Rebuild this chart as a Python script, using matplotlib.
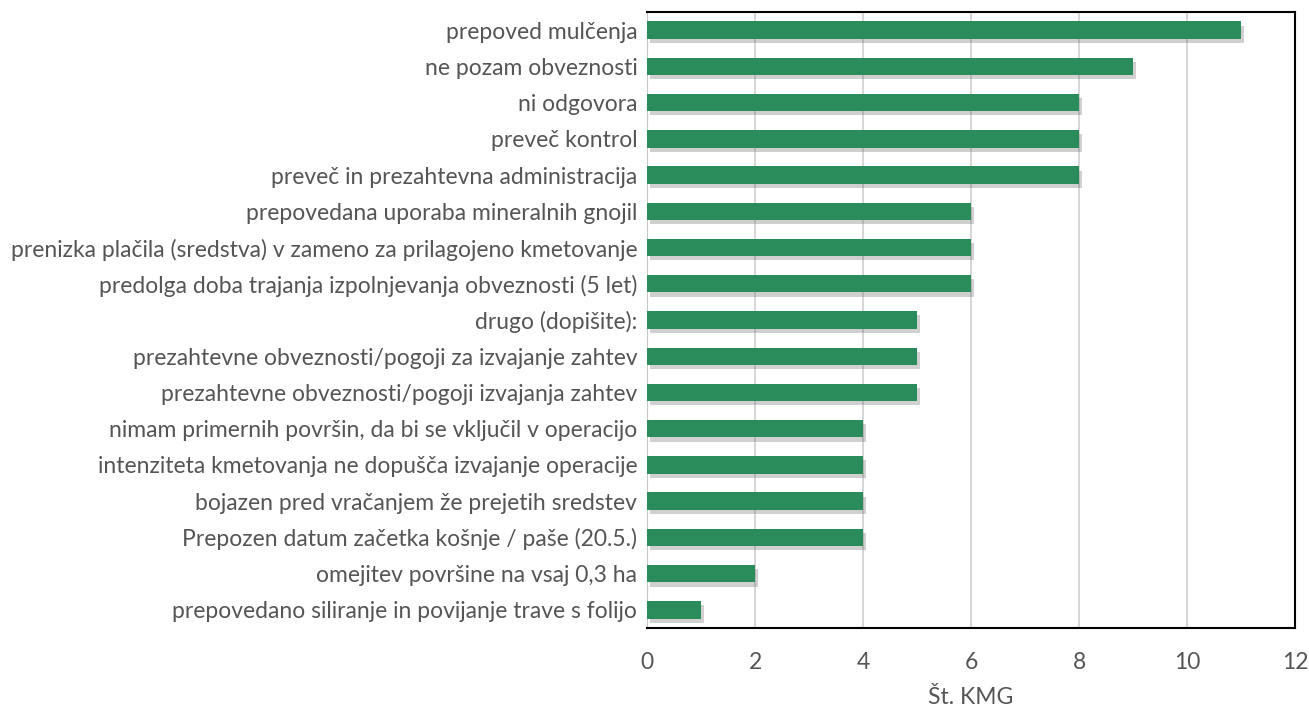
import numpy as np
import matplotlib.pyplot as plt
import matplotlib.patheffects as pe

plt.rcParams['font.family'] = ['Lato', 'DejaVu Sans']

labels = [
    'prepoved mulčenja',
    'ne pozam obveznosti',
    'ni odgovora',
    'preveč kontrol',
    'preveč in prezahtevna administracija',
    'prepovedana uporaba mineralnih gnojil',
    'prenizka plačila (sredstva) v zameno za prilagojeno kmetovanje',
    'predolga doba trajanja izpolnjevanja obveznosti (5 let)',
    'drugo (dopišite):',
    'prezahtevne obveznosti/pogoji za izvajanje zahtev',
    'prezahtevne obveznosti/pogoji izvajanja zahtev',
    'nimam primernih površin, da bi se vključil v operacijo',
    'intenziteta kmetovanja ne dopušča izvajanje operacije',
    'bojazen pred vračanjem že prejetih sredstev',
    'Prepozen datum začetka košnje / paše (20.5.)',
    'omejitev površine na vsaj 0,3 ha',
    'prepovedano siliranje in povijanje trave s folijo',
]
values = [11, 9, 8, 8, 8, 6, 6, 6, 5, 5, 5, 4, 4, 4, 4, 2, 1]

fig = plt.figure(figsize=(13.09, 7.07), dpi=100)
ax = fig.add_axes([647/1309, 1 - 628/707, (1295-647)/1309, (628-12)/707])

y = np.arange(len(labels))
bars = ax.barh(y, values, height=0.48, color='#2a8c5a', zorder=3)
for b in bars:
    b.set_path_effects([pe.SimplePatchShadow(offset=(2, -3), shadow_rgbFace='#666666', alpha=0.3), pe.Normal()])

ax.set_ylim(len(labels) - 0.5, -0.5)
ax.set_xlim(0, 12)
ax.set_xticks(range(0, 13, 2))
ax.set_yticks(y)
ax.set_yticklabels(labels, fontsize=16.5, color='#555555')
ax.tick_params(axis='x', labelsize=16.5, colors='#555555', length=0, pad=17)
ax.tick_params(axis='y', length=0, pad=7)
ax.grid(axis='x', color='#d0d0d0', linewidth=1.2, zorder=0)
for s in ['top', 'right', 'bottom']:
    ax.spines[s].set_color('black')
    ax.spines[s].set_linewidth(1.5)
ax.spines['left'].set_color('#c8c8c8')
ax.set_xlabel('Št. KMG', fontsize=16.5, color='#555555', labelpad=10)

fig.savefig('out.png', dpi=100)
